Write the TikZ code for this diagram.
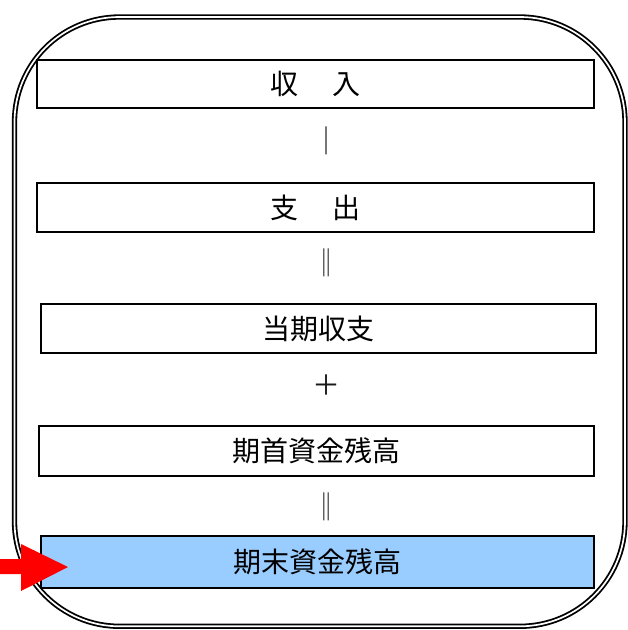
\documentclass[tikz,border=0pt]{standalone}
\usepackage{fontspec}
\newfontfamily\jp{Noto Sans CJK JP}
\definecolor{boxblue}{HTML}{99CCFF}
\begin{document}
\begin{tikzpicture}[x=1pt,y=-1pt,
  box/.style={draw, line width=1.6pt, inner sep=0pt, minimum width=#1, minimum height=49pt,
    font=\jp\fontsize{28}{32}\selectfont},
  sym/.style={inner sep=0pt, text=black!90, font=\jp\fontsize{28}{32}\selectfont},
  frame/.style={draw, double, line width=1.8pt, double distance=1.7pt, rounded corners=105pt}]
\useasboundingbox (0,0) rectangle (628,630);
\draw[frame] (14.5,17) rectangle (625,626.3);
\node[box=557pt, minimum height=48pt] (inc) at (315.5,84) {収\hspace{1.2em}入};
\node[box=557pt] (out) at (315.5,207.5) {支\hspace{1.2em}出};
\node[box=555pt] (cur) at (318.5,328.5) {当期収支};
\node[box=555pt, minimum height=50pt] (beg) at (316.5,451) {期首資金残高};
\node[box=553pt, minimum height=52pt, fill=boxblue] (end) at (317.5,562) {期末資金残高};
\node[sym] (s1) at (326,141) {｜};
\node[sym] (s2) at (326,263) {‖};
\node[sym] (s3) at (326,385) {＋};
\node[sym] (s4) at (326,507) {‖};
\fill[red] (0,559) -- (21,559) -- (21,544) -- (68,567) -- (21,591) -- (21,574) -- (0,574) -- cycle;
\end{tikzpicture}
\end{document}
